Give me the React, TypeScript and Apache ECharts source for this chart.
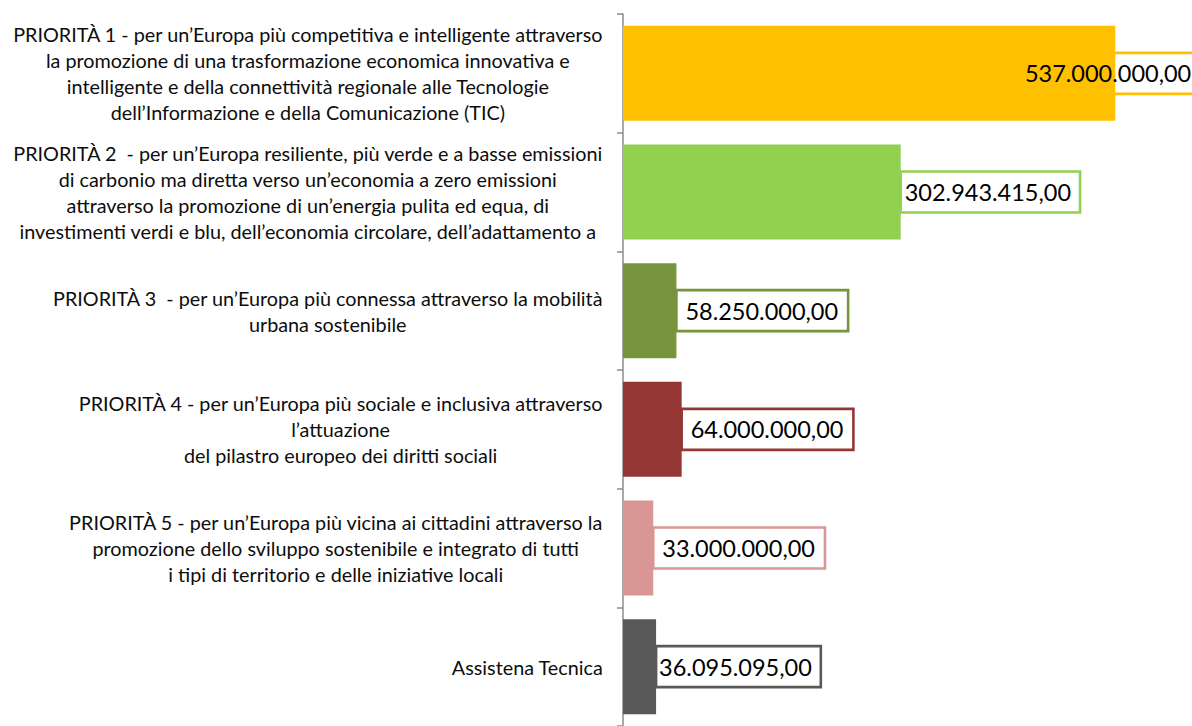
import React, { useEffect, useRef } from "react";
import * as echarts from "echarts";

const categories: string[] = [
  "PRIORITÀ 1 - per un’Europa più competitiva e intelligente attraverso\nla promozione di una trasformazione economica innovativa e\nintelligente e della connettività regionale alle Tecnologie\ndell’Informazione e della Comunicazione (TIC)",
  "PRIORITÀ 2  - per un’Europa resiliente, più verde e a basse emissioni\ndi carbonio ma diretta verso un’economia a zero emissioni\nattraverso la promozione di un’energia pulita ed equa, di\ninvestimenti verdi e blu, dell’economia circolare, dell’adattamento a",
  "PRIORITÀ 3  - per un’Europa più connessa attraverso la mobilità\nurbana sostenibile",
  "PRIORITÀ 4 - per un’Europa più sociale e inclusiva attraverso\nl’attuazione\ndel pilastro europeo dei diritti sociali",
  "PRIORITÀ 5 - per un’Europa più vicina ai cittadini attraverso la\npromozione dello sviluppo sostenibile e integrato di tutti\ni tipi di territorio e delle iniziative locali",
  "Assistena Tecnica",
];

const values: number[] = [537000000, 302943415, 58250000, 64000000, 33000000, 36095095];

const barColors: string[] = ["#FFC000", "#92D050", "#77933C", "#953735", "#D99694", "#595959"];

const FONT = "Lato, 'Open Sans', sans-serif";

function fmtIt(v: number): string {
  const [i, d] = v.toFixed(2).split(".");
  return i.replace(/\B(?=(\d{3})+(?!\d))/g, ".") + "," + d;
}

export default function App() {
  const ref = useRef<HTMLDivElement>(null);

  useEffect(() => {
    if (!ref.current) return;
    const chart = echarts.init(ref.current, null, { renderer: "svg" });

    const data = values.map((v, i) => {
      const item: any = {
        value: v,
        itemStyle: { color: barColors[i] },
        label: {
          borderColor: barColors[i],
        },
      };
      if (i === 0) {
        item.label.position = "insideRight";
        item.label.distance = 0;
        item.label.offset = [86, 0];
      }
      if (i === 1) item.label.padding = [7, 9, 7, 4];
      if (i === 5) item.label.padding = [7, 9, 7, 3];
      return item;
    });

    chart.setOption({
      animation: false,
      backgroundColor: "#ffffff",
      grid: { left: 623, top: 14, width: 550, height: 720, containLabel: false },
      xAxis: {
        type: "value",
        min: 0,
        max: 600000000,
        show: false,
      },
      yAxis: {
        type: "category",
        inverse: true,
        data: categories,
        axisLine: { show: true, lineStyle: { color: "#8C8C8C", width: 1.5 } },
        axisTick: { show: true, length: 6, lineStyle: { color: "#8C8C8C", width: 1.5 } },
        splitLine: { show: false },
        axisLabel: {
          margin: 20,
          formatter: (val: string) =>
            val
              .split("\n")
              .map((l) => "{c|" + l + "}")
              .join("\n"),
          rich: {
            c: {
              fontFamily: FONT,
              fontSize: 19.8,
              lineHeight: 26,
              color: "#0d0d0d",
              align: "center",
            },
          },
        },
      },
      series: [
        {
          type: "bar",
          data,
          barCategoryGap: "20%",
          label: {
            show: true,
            position: "right",
            distance: 0,
            formatter: (p: any) => fmtIt(p.value),
            fontFamily: FONT,
            fontSize: 23.5,
            lineHeight: 27,
            color: "#000000",
            borderWidth: 1.3,
            padding: [7, 10, 7, 9],
            backgroundColor: "transparent",
          },
        },
      ],
    });

    return () => chart.dispose();
  }, []);

  return (
    <div
      ref={ref}
      style={{ position: "fixed", left: 0, top: 0, width: 1192, height: 726, background: "#fff" }}
    />
  );
}
